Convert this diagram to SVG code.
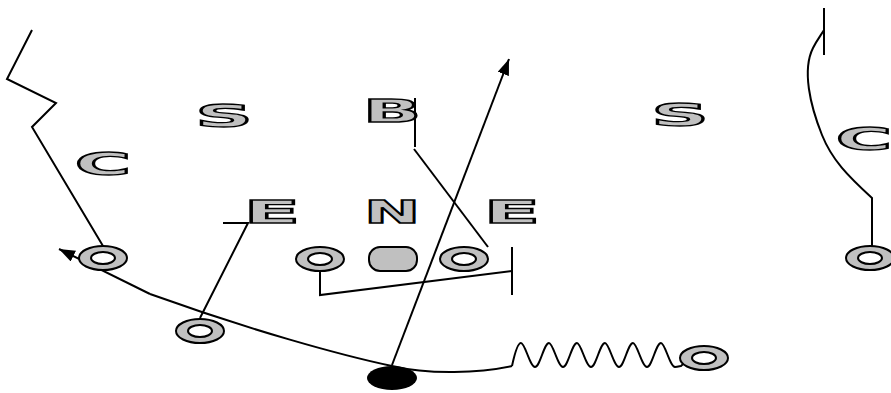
<svg xmlns="http://www.w3.org/2000/svg" width="891" height="393" viewBox="0 0 891 393">
<style>
.ln{fill:none;stroke:#000;stroke-width:2}
.ltr{font-family:"DejaVu Sans","Liberation Sans",sans-serif;font-weight:bold;font-size:32px;fill:#c0c0c0;stroke:#000;stroke-width:1.4;text-anchor:middle}
.ring{fill:#c0c0c0;stroke:#000;stroke-width:2}
.hole{fill:#fff;stroke:#000;stroke-width:2}
</style>
<defs>
<marker id="ah" markerUnits="userSpaceOnUse" markerWidth="18" markerHeight="14" refX="16" refY="6" orient="auto">
<path d="M0,0 L16,6 L0,12 z" fill="#000"/>
</marker>
</defs>
<rect width="891" height="393" fill="#fff"/>
<g id="connectors">
<polyline class="ln" points="32,30 7,79 56,103 32,127 103,246"/>
<path class="ln" d="M150,294 L59,249" marker-end="url(#ah)"/>
<path class="ln" d="M150,294 C250,330 340,355 392,366 C430,375 480,373 512,366"/>
<path class="ln" d="M512,366 C515,352 518,343 521,343 C525,343 530,367 535,367 C540,367 544,343 549,343 C553,343 558,367 563,367 C568,367 572,343 577,343 C581,343 586,367 591,367 C596,367 600,343 605,343 C609,343 614,367 619,367 C624,367 628,343 633,343 C637,343 642,367 647,367 C652,367 656,343 661,343 C665,343 670,367 675,367 C678,367 680,366 681,366 L698,350"/>
<path class="ln" d="M392,365 L509,59" marker-end="url(#ah)"/>
<polyline class="ln" points="223,223 248,223 200,318"/>
<polyline class="ln" points="320,271 320,295 512,271"/>
<line class="ln" x1="512" y1="247" x2="512" y2="295"/>
<line class="ln" x1="415" y1="98" x2="415" y2="147"/>
<line class="ln" x1="414" y1="149" x2="488" y2="247"/>
<line class="ln" x1="824" y1="8" x2="824" y2="55"/>
<path class="ln" d="M872,247 L872,198 C848,176 832,160 822,135 C810,105 802,70 813,48 C817,40 821,35 824,30"/>
</g>
<g id="S1"><text class="ltr" transform="translate(224,127) scale(2.5,1)">S</text></g>
<g id="S2"><text class="ltr" transform="translate(680,126) scale(2.5,1)">S</text></g>
<g id="C1"><text class="ltr" transform="translate(103,175) scale(2.4,1)">C</text></g>
<g id="C2"><text class="ltr" transform="translate(864,150) scale(2.4,1)">C</text></g>
<g id="B"><text class="ltr" transform="translate(392,122) scale(2.4,1)">B</text></g>
<g id="E1"><text class="ltr" transform="translate(272,223) scale(2.6,1)">E</text></g>
<g id="N"><text class="ltr" transform="translate(392,223) scale(2.1,1)">N</text></g>
<g id="E2"><text class="ltr" transform="translate(512,223) scale(2.6,1)">E</text></g>
<g id="O1"><ellipse class="ring" cx="103" cy="258" rx="24" ry="12"/><ellipse class="hole" cx="103" cy="258" rx="12" ry="6"/></g>
<g id="O2"><ellipse class="ring" cx="320" cy="259" rx="24" ry="12"/><ellipse class="hole" cx="320" cy="259" rx="12" ry="6"/></g>
<g id="CTR"><rect class="ring" x="369" y="247" width="48" height="24" rx="11"/></g>
<g id="O3"><ellipse class="ring" cx="464" cy="259" rx="24" ry="12"/><ellipse class="hole" cx="464" cy="259" rx="12" ry="6"/></g>
<g id="O4"><ellipse class="ring" cx="200" cy="331" rx="24" ry="12"/><ellipse class="hole" cx="200" cy="331" rx="12" ry="6"/></g>
<g id="O5"><ellipse class="ring" cx="704" cy="358" rx="24" ry="12"/><ellipse class="hole" cx="704" cy="358" rx="12" ry="6"/></g>
<g id="O6"><ellipse class="ring" cx="870" cy="258" rx="24" ry="12"/><ellipse class="hole" cx="870" cy="258" rx="12" ry="6"/></g>
<g id="ball"><ellipse cx="392" cy="378" rx="25" ry="12" fill="#000"/></g>
</svg>
